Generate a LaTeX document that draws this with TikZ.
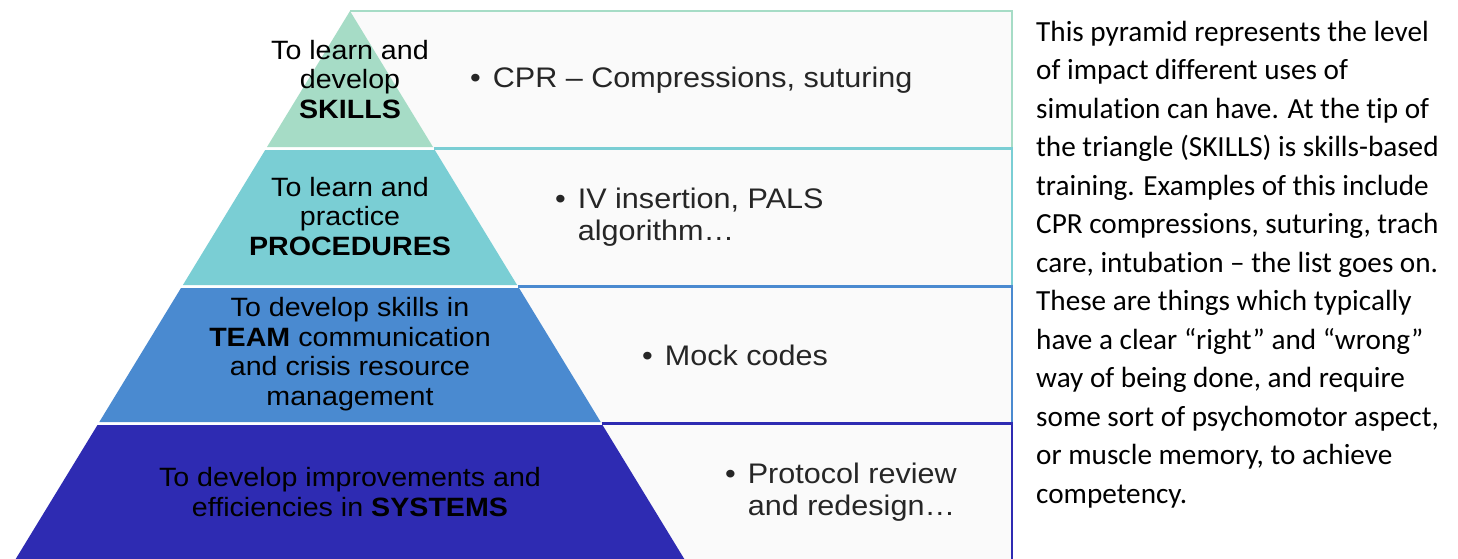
\documentclass[tikz,border=0pt]{standalone}
\usepackage{fontspec}
\setmainfont{Liberation Sans}[FakeStretch=1.08]
\newfontfamily\notefont{Carlito}[Ligatures=NoCommon]
\definecolor{skillgreen}{RGB}{166,220,198}
\definecolor{procteal}{RGB}{122,206,212}
\definecolor{teamblue}{RGB}{74,138,208}
\definecolor{sysblue}{RGB}{46,43,178}
\definecolor{boxgray}{RGB}{250,250,250}

\begin{document}
\begin{tikzpicture}[x=1pt,y=-1pt,
  boxline/.style={line width=2.5pt},
  pyrtext/.style={align=center,inner sep=0pt,font=\fontsize{26.5}{29.5}\selectfont,text=black},
  itemtext/.style={anchor=west,align=left,inner sep=0pt,font=\fontsize{28.3}{32}\selectfont,text=black!85}
]
  \fill[white] (0,0) rectangle (1458,559);
  \useasboundingbox (0,0) rectangle (1458,559);

  \fill[boxgray] (350,11) -- (1012,11) -- (1012,559) -- (684.3,559) -- cycle;
  \draw[boxline,skillgreen] (350,11) -- (1012,11) -- (1012,148.5);
  \draw[boxline,procteal] (434,148.5) -- (1012,148.5) -- (1012,286.5);
  \draw[boxline,teamblue] (518,286.5) -- (1012,286.5) -- (1012,423.5);
  \draw[boxline,sysblue] (601.5,423.5) -- (1012,423.5) -- (1012,559);

  \fill[skillgreen] (350,11) -- (433,147) -- (267,147) -- cycle;
  \fill[procteal] (265.2,150) -- (434.8,150) -- (517.1,285) -- (182.9,285) -- cycle;
  \fill[teamblue] (181,288) -- (519,288) -- (600.7,422) -- (99.3,422) -- cycle;
  \fill[sysblue] (97.5,425) -- (602.5,425) -- (684.3,559) -- (15.7,559) -- cycle;

  \node[pyrtext] (skills) at (350,79.5) {To learn and\\develop\\\textbf{SKILLS}};
  \node[pyrtext] (procs) at (350,216.5) {To learn and\\practice\\\textbf{PROCEDURES}};
  \node[pyrtext] (team) at (350,354) {To develop skills in\\\textbf{TEAM} communication\\and crisis resource\\management};
  \node[pyrtext] (systems) at (350,492) {To develop improvements and\\efficiencies in \textbf{SYSTEMS}};

  \node[itemtext] (cpr) at (470,80) {\makebox[0.8em][l]{•}CPR – Compressions, suturing};
  \node[itemtext] (iv) at (555,217) {\makebox[0.8em][l]{•}IV insertion, PALS\\\hspace*{0.8em}algorithm…};
  \node[itemtext] (mock) at (642,355) {\makebox[0.8em][l]{•}Mock codes};
  \node[itemtext] (protocol) at (725,492) {\makebox[0.8em][l]{•}Protocol review\\\hspace*{0.8em}and redesign…};

  \node[anchor=north west,align=left,inner sep=0pt,font=\fontsize{29.2}{38.5}\notefont] (note) at (1036,21)
    {This pyramid represents the level\\of impact different uses of\\simulation can have. At the tip of\\the triangle (SKILLS) is skills-based\\training. Examples of this include\\CPR compressions, suturing, trach\\care, intubation – the list goes on.\\These are things which typically\\have a clear “right” and “wrong”\\way of being done, and require\\some sort of psychomotor aspect,\\or muscle memory, to achieve\\competency.};
\end{tikzpicture}
\end{document}
